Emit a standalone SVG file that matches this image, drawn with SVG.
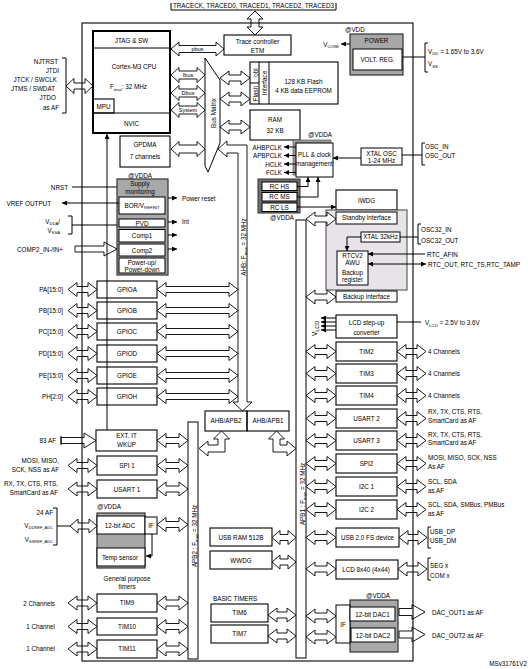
<svg xmlns="http://www.w3.org/2000/svg" width="528" height="669" viewBox="0 0 528 669">
<style>
text{font-family:"Liberation Sans",Arial,sans-serif;font-size:6.3px;fill:#000}
.m{text-anchor:middle}
.e{text-anchor:end}
.bx{fill:none;stroke:#000;stroke-width:1.1}
.wb{fill:#fff;stroke:#000;stroke-width:1}
.ha{fill:#fff;stroke:#000;stroke-width:0.9}
.ln{fill:none;stroke:#000;stroke-width:1}
.gr{fill:#a8a8a8;stroke:#333;stroke-width:1.2}
.dg{fill:#6e6e6e;stroke:#333;stroke-width:1}
.rtc{fill:#e8e3e8;stroke:#444;stroke-width:1}
.sm{font-size:5.5px}
</style>
<defs>
<marker id="ah" viewBox="0 0 6 6" refX="6" refY="3" markerWidth="5" markerHeight="5" markerUnits="userSpaceOnUse" orient="auto-start-reverse"><path d="M0,0 L6,3 L0,6 z" fill="#000"/></marker>
<polygon id="a29" points="0,0 9,-7 9,-3 20,-3 20,-7 29,0 20,7 20,3 9,3 9,7"/>
<polygon id="a31" points="0,0 9,-7 9,-3 22,-3 22,-7 31,0 22,7 22,3 9,3 9,7"/>
<polygon id="a30" points="0,0 9,-7 9,-3 21,-3 21,-7 30,0 21,7 21,3 9,3 9,7"/>
<polygon id="a28" points="0,0 9,-7 9,-3 19,-3 19,-7 28,0 19,7 19,3 9,3 9,7"/>
<polygon id="a24" points="0,0 8,-7 8,-3 16,-3 16,-7 24,0 16,7 16,3 8,3 8,7"/>
<polygon id="a81" points="0,0 9,-7 9,-3 72,-3 72,-7 81,0 72,7 72,3 9,3 9,7"/>
<polygon id="b34" points="0,0 8,-7.5 8,-4 26,-4 26,-7.5 34,0 26,7.5 26,4 8,4 8,7.5"/>
</defs>
<rect width="528" height="669" fill="#fff"/>

<!-- top trace label -->
<g id="trace-pins">
<text class="m" x="253.5" y="8">TRACECK, TRACED0, TRACED1, TRACED2, TRACED3</text>
<path class="ln" d="M171,3 V10 H336 V3"/>
</g>

<!-- nodes -->
<g id="cpu">
<rect x="93" y="31" width="77" height="102" fill="none" stroke="#000" stroke-width="2"/>
<path class="ln" d="M93,48 H170 M93,113 H170"/>
<rect x="93" y="99" width="21" height="14" class="bx"/>
<text class="m" x="131.5" y="42.5">JTAG &amp; SW</text>
<text class="m" x="134" y="69" font-size="8">Cortex-M3 CPU</text>
<text x="110" y="89">F<tspan font-size="4.2" dy="1.5">max</tspan><tspan dy="-1.5">: 32 MHz</tspan></text>
<text class="m" x="103.5" y="109" font-size="6">MPU</text>
<text class="m" x="131.5" y="126">NVIC</text>
</g>
<g id="jtag-pins">
<text class="e" x="58" y="64" font-size="6.4">NJTRST</text>
<text class="e" x="59" y="73" font-size="6.4">JTDI</text>
<text class="e" x="57" y="82" font-size="6.4">JTCK / SWCLK</text>
<text class="e" x="55" y="91" font-size="6.4">JTMS / SWDAT</text>
<text class="e" x="56" y="100" font-size="6.4">JTDO</text>
<text class="e" x="59" y="110" font-size="6.4">as AF</text>
<path class="ln" d="M62,58 H66 V113 H62"/>
</g>
<g id="gpdma">
<rect x="120" y="136" width="50" height="31" class="bx"/>
<text class="m" x="145" y="146.5" font-size="7">GPDMA</text>
<text class="m" x="145" y="159">7 channels</text>
</g>
<g id="trace-etm">
<rect x="224" y="35" width="67" height="20" class="bx"/>
<text class="m" x="257.5" y="43.5" font-size="7.5">Trace controller</text>
<text class="m" x="257.5" y="53" font-size="7.5">ETM</text>
</g>
<g id="bus-matrix">
<path class="ln" d="M205,58 L220,80 L220,143 L208,172 L205,166 Z"/>
<text class="m" transform="translate(216,113) rotate(-90)" font-size="7">Bus Matrix</text>
</g>
<g id="flash">
<rect x="250" y="62" width="88" height="42" class="bx"/>
<path class="ln" d="M259,62 V104 M269,62 V104 M250,83 H259"/>
<text class="m" transform="translate(257.5,72.5) rotate(-90)" font-size="6">obl</text>
<text class="m" transform="translate(257.5,93.5) rotate(-90)" font-size="6">Flash</text>
<text class="m" transform="translate(267,83) rotate(-90)" font-size="6">Interface</text>
<text class="m" x="303.5" y="83.5" font-size="6">128 KB Flash</text>
<text class="m" x="303.5" y="92.5" font-size="5.8">4 KB data EEPROM</text>
</g>
<g id="ram">
<rect x="250" y="110" width="50" height="30" class="bx"/>
<text class="m" x="275" y="122" font-size="8">RAM</text>
<text class="m" x="275" y="133" font-size="8">32 KB</text>
</g>
<g id="power">
<text x="345" y="31.5" font-size="6">@VDD</text>
<rect x="350" y="34" width="53" height="41" class="gr"/>
<rect x="353" y="49" width="49" height="21" class="wb"/>
<text class="m" x="376.5" y="43" font-size="6.5">POWER</text>
<text class="m" x="377.5" y="62" font-size="6.5">VOLT. REG.</text>
<text class="e" x="339" y="46.5" font-size="6.5">V<tspan font-size="4" dy="1.2">CORE</tspan></text>
<path class="ln" d="M403,57 H425"/>
<path class="ln" d="M428,43 H425 V72 H428"/>
<text x="428" y="53.5" font-size="6.5">V<tspan font-size="4.3" dy="1.5">DD</tspan><tspan dy="-1.5"> = 1.65V to 3.6V</tspan></text>
<text x="428" y="66" font-size="6.5">V<tspan font-size="4.3" dy="1.5">SS</tspan></text>
</g>
<g id="pll">
<text class="m" x="320" y="137" font-size="6">@VDDA</text>
<rect x="293" y="140" width="38" height="35" fill="#999" stroke="#666" stroke-width="0.8"/>
<rect x="296" y="143" width="37" height="34" class="wb"/>
<text class="m" x="314.5" y="156.5" font-size="6">PLL &amp; clock</text>
<text class="m" x="314.5" y="165.5" font-size="6">management</text>
<text class="e" x="282" y="149.5">AHBPCLK</text>
<text class="e" x="282" y="158">APBPCLK</text>
<text class="e" x="282" y="166.5">HCLK</text>
<text class="e" x="282" y="175">FCLK</text>
</g>
<g id="xtal-osc">
<rect x="361" y="148" width="41" height="17" class="wb"/>
<text class="m" x="381.5" y="155.5" font-size="6">XTAL OSC</text>
<text class="m" x="381.5" y="163" font-size="5.6">1-24 MHz</text>
<path class="ln" d="M402,155 H422"/>
<path class="ln" d="M425,143 H422 V165 H425"/>
<text x="425" y="148.5">OSC_IN</text>
<text x="425" y="158">OSC_OUT</text>
</g>
<g id="rc-osc">
<rect x="258" y="179" width="42" height="34" class="dg"/>
<rect x="262" y="182" width="35" height="8.5" class="wb" stroke-width="0.8"/>
<rect x="262" y="192.5" width="35" height="8.5" class="wb" stroke-width="0.8"/>
<rect x="262" y="203" width="35" height="8.5" class="wb" stroke-width="0.8"/>
<text class="m" x="279.5" y="188.8" font-size="6">RC HS</text>
<text class="m" x="279.5" y="199.3" font-size="6">RC MS</text>
<text class="m" x="279.5" y="209.8" font-size="6">RC LS</text>
<text class="m" x="282" y="220" font-size="6">@VDDA</text>
</g>
<g id="supply">
<text class="m" x="140" y="177.5" font-size="6">@VDDA</text>
<rect x="117" y="179" width="51" height="96" class="gr"/>
<text class="m" x="140" y="185.5">Supply</text>
<text class="m" x="140" y="193.5">monitoring</text>
<rect x="119" y="197" width="46" height="17" class="wb"/>
<text class="m" x="142" y="208">BOR/V<tspan font-size="4.3" dy="1.2">REFINT</tspan></text>
<rect x="119" y="219" width="46" height="8" class="wb"/>
<text class="m" x="142" y="225.5" font-size="6">PVD</text>
<rect x="119" y="229.5" width="46" height="12.5" class="wb"/>
<text class="m" x="142" y="238">Comp1</text>
<rect x="119" y="244" width="46" height="12" class="wb"/>
<text class="m" x="142" y="252.5">Comp2</text>
<rect x="119" y="258" width="46" height="15" class="wb"/>
<text class="m" x="142" y="264.8" font-size="7">Power-up/</text>
<text class="m" x="142" y="271.8" font-size="7">Power-down</text>
<text x="182" y="200.5">Power reset</text>
<text x="182" y="224">Int</text>
</g>
<g id="supply-pins">
<text class="e" x="68" y="189.5">NRST</text>
<text class="e" x="51" y="205.5">VREF OUTPUT</text>
<text class="e" x="60" y="224">V<tspan font-size="4.2" dy="1.2">DDA</tspan><tspan dy="-1.2">/</tspan></text>
<text class="e" x="60" y="232.5">V<tspan font-size="4.2" dy="1.2">SSA</tspan></text>
<path class="ln" d="M68,216 H72 V234 H68"/>
<text class="e" x="63" y="251.5">COMP2_IN-/IN+</text>
</g>
<g id="iwdg">
<rect x="336" y="190" width="61" height="20" class="bx"/>
<text class="m" x="366.5" y="202.5" font-size="6.5">IWDG</text>
</g>
<g id="rtc-domain">
<rect x="326" y="210" width="81" height="80" class="rtc"/>
<rect x="336" y="212" width="61" height="12" class="wb"/>
<text class="m" x="366.5" y="220" font-size="5.5">Standby interface</text>
<rect x="361" y="232" width="39" height="10" class="wb"/>
<text class="m" x="380.5" y="239.3" font-size="6">XTAL 32kHz</text>
<rect x="337" y="251" width="31" height="34" class="wb"/>
<text class="m" x="352.5" y="258" font-size="5.8">RTCV2</text>
<text class="m" x="352.5" y="265" font-size="5.8">AWU</text>
<text class="m" x="352.5" y="274.5" font-size="5.8">Backup</text>
<text class="m" x="352.5" y="281.5" font-size="5.8">register</text>
<rect x="336" y="291" width="61" height="11" class="wb"/>
<text class="m" x="366.5" y="298.8" font-size="5.5">Backup interface</text>
<path class="ln" d="M400,237 H418"/>
<path class="ln" d="M421,224 H418 V244 H421"/>
<text x="421" y="232">OSC32_IN</text>
<text x="421" y="242.5">OSC32_OUT</text>
<text x="427" y="256.5">RTC_AFIN</text>
<text x="428" y="266.5" font-size="6">RTC_OUT, RTC_TS,RTC_TAMP</text>
</g>
<g id="lcd-stepup">
<rect x="336" y="315" width="61" height="23" class="bx"/>
<text class="m" x="366.5" y="325" font-size="7">LCD step-up</text>
<text class="m" x="366.5" y="334.5" font-size="5.8">converter</text>
<text transform="translate(317,336) rotate(-90)" font-size="8.5">V<tspan font-size="5.5" dy="1.5">LCD</tspan></text>
<path class="ln" d="M397,322 H421"/>
<text x="425" y="325" font-size="6.5">V<tspan font-size="4.3" dy="1.5">LCD</tspan><tspan dy="-1.5"> = 2.5V to 3.6V</tspan></text>
</g>

<!-- GPIOs -->
<g id="gpioa"><rect x="97" y="281" width="60" height="17" class="bx"/><text class="m" x="127" y="291.7">GPIOA</text><text class="e" x="63" y="292">PA[15:0]</text></g>
<g id="gpiob"><rect x="97" y="302" width="60" height="17" class="bx"/><text class="m" x="127" y="312.7">GPIOB</text><text class="e" x="63" y="313">PB[15:0]</text></g>
<g id="gpioc"><rect x="97" y="323" width="60" height="17" class="bx"/><text class="m" x="127" y="333.7">GPIOC</text><text class="e" x="63" y="334">PC[15:0]</text></g>
<g id="gpiod"><rect x="97" y="345" width="60" height="17" class="bx"/><text class="m" x="127" y="355.7">GPIOD</text><text class="e" x="63" y="356">PD[15:0]</text></g>
<g id="gpioe"><rect x="97" y="367" width="60" height="17" class="bx"/><text class="m" x="127" y="377.7">GPIOE</text><text class="e" x="63" y="378">PE[15:0]</text></g>
<g id="gpioh"><rect x="97" y="388" width="60" height="17" class="bx"/><text class="m" x="127" y="398.7">GPIOH</text><text class="e" x="63" y="399">PH[2:0]</text></g>

<!-- AHB bar + bridges -->
<g id="ahb">
<polygon class="ha" points="218,149 227,141 227,145 247,145 247,402 252,402 242.5,411 233,402 238,402 238,153 227,153 227,157"/>
<text class="m" transform="translate(246,247) rotate(-90)" font-size="6.8">AHB: F<tspan font-size="4.3" dy="1.2">max</tspan><tspan dy="-1.2"> = 32 MHz</tspan></text>
</g>
<g id="ahb-apb2"><rect x="205" y="411" width="42" height="20" class="bx"/><text class="m" x="226" y="423" font-size="5.5">AHB/APB2</text></g>
<g id="ahb-apb1"><rect x="247" y="411" width="42" height="20" class="bx"/><text class="m" x="268" y="423" font-size="5.5">AHB/APB1</text></g>
<g id="apb2">
<rect x="188" y="422" width="10" height="237" class="wb"/>
<text class="m" transform="translate(196.5,536) rotate(-90)" font-size="7">APB2 : F<tspan font-size="4.3" dy="1.2">max</tspan><tspan dy="-1.2"> = 32 MHz</tspan></text>
</g>
<g id="apb1">
<rect x="296" y="220" width="10" height="438" class="wb"/>
<text class="m" transform="translate(304.5,494) rotate(-90)" font-size="7">APB1 : F<tspan font-size="4.3" dy="1.2">max</tspan><tspan dy="-1.2"> = 32 MHz</tspan></text>
</g>

<!-- left APB2 peripherals -->
<g id="extit"><rect x="96" y="430" width="61" height="21" class="bx"/><text class="m" x="126.5" y="437.5" font-size="6">EXT. IT</text><text class="m" x="126.5" y="446.5" font-size="6">WKUP</text><text class="e" x="56" y="443">83 AF</text></g>
<g id="spi1"><rect x="97" y="456" width="60" height="19" class="bx"/><text class="m" x="127" y="468">SPI 1</text><text class="e" x="59" y="462.5">MOSI, MISO,</text><text class="e" x="59" y="471.5">SCK, NSS as AF</text></g>
<g id="usart1"><rect x="97" y="480" width="60" height="18" class="bx"/><text class="m" x="127" y="491.5">USART 1</text><text class="e" x="58" y="486">RX, TX, CTS, RTS,</text><text class="e" x="58" y="495">SmartCard as AF</text></g>
<g id="adc">
<text x="97" y="508.5" font-size="6">@VDDA</text>
<rect x="97" y="513" width="48" height="55" class="gr" fill="#b5b5b5"/>
<rect x="97" y="516" width="48" height="18" class="wb"/>
<rect x="145" y="517" width="12" height="17" class="wb"/>
<rect x="97" y="548" width="48" height="18" class="wb"/>
<text class="m" x="120" y="527.5">12-bit ADC</text>
<text class="m" x="151" y="528" font-size="6.5">IF</text>
<text class="m" x="120" y="559.5">Temp sensor</text>
<text class="e" x="53" y="514.5">24 AF</text>
<text class="e" x="53" y="528">V<tspan font-size="4" dy="1.2">DDREF_ADC</tspan></text>
<text class="e" x="53" y="541.5">V<tspan font-size="4" dy="1.2">SSREF_ADC</tspan></text>
<path class="ln" d="M53,508 H57 V545 H53"/>
</g>
<text class="m" x="127" y="580.5">General purpose</text>
<text class="m" x="127" y="588.5">timers</text>
<g id="tim9"><rect x="97" y="594" width="60" height="18" class="bx"/><text class="m" x="127" y="605.3">TIM9</text><text class="e" x="55" y="605.5">2 Channels</text></g>
<g id="tim10"><rect x="97" y="618" width="60" height="17" class="bx"/><text class="m" x="127" y="628.8">TIM10</text><text class="e" x="55" y="628.5">1 Channel</text></g>
<g id="tim11"><rect x="97" y="640" width="60" height="18" class="bx"/><text class="m" x="127" y="651.3">TIM11</text><text class="e" x="55" y="651">1 Channel</text></g>

<!-- middle APB1 blocks -->
<g id="usbram"><rect x="210" y="528" width="62" height="18" class="bx"/><text class="m" x="241" y="539.5" font-size="6">USB RAM 512B</text></g>
<g id="wwdg"><rect x="210" y="551" width="62" height="18" class="bx"/><text class="m" x="241" y="562.5">WWDG</text></g>
<text x="213" y="601" font-size="6">BASIC TIMERS</text>
<g id="tim6"><rect x="211" y="604" width="57" height="18" class="bx"/><text class="m" x="239.5" y="615.3">TIM6</text></g>
<g id="tim7"><rect x="211" y="625" width="57" height="18" class="bx"/><text class="m" x="239.5" y="636.3">TIM7</text></g>

<!-- right APB1 peripherals -->
<g id="tim2"><rect x="336" y="342" width="61" height="19" class="bx"/><text class="m" x="366.5" y="353.7">TIM2</text><text x="428" y="353.5">4 Channels</text></g>
<g id="tim3"><rect x="336" y="364" width="61" height="19" class="bx"/><text class="m" x="366.5" y="375.7">TIM3</text><text x="428" y="375.5">4 Channels</text></g>
<g id="tim4"><rect x="336" y="386" width="61" height="19" class="bx"/><text class="m" x="366.5" y="397.7">TIM4</text><text x="428" y="397.5">4 Channels</text></g>
<g id="usart2"><rect x="336" y="409" width="61" height="19" class="bx"/><text class="m" x="366.5" y="420.7">USART 2</text><text x="428" y="414">RX, TX, CTS, RTS,</text><text x="428" y="422.5">SmartCard as AF</text></g>
<g id="usart3"><rect x="336" y="431" width="61" height="19" class="bx"/><text class="m" x="366.5" y="442.7">USART 3</text><text x="428" y="436.5">RX, TX, CTS, RTS,</text><text x="428" y="444.5">SmartCard as AF</text></g>
<g id="spi2"><rect x="336" y="454" width="61" height="19" class="bx"/><text class="m" x="366.5" y="465.7">SPI2</text><text x="428" y="460">MOSI, MISO, SCK, NSS</text><text x="428" y="468.5">As AF</text></g>
<g id="i2c1"><rect x="336" y="477" width="61" height="19" class="bx"/><text class="m" x="366.5" y="488.7">I2C 1</text><text x="428" y="484">SCL, SDA</text><text x="428" y="492.5">as AF</text></g>
<g id="i2c2"><rect x="336" y="500" width="61" height="19" class="bx"/><text class="m" x="366.5" y="511.7">I2C 2</text><text x="428" y="507">SCL, SDA, SMBus, PMBus</text><text x="428" y="515.5">as AF</text></g>
<g id="usbdev"><rect x="336" y="528" width="63" height="19" class="bx"/><text class="m" x="367.5" y="540" font-size="6.8">USB 2.0 FS device</text><path class="ln" d="M431,527 H428 V548 H431"/><text x="430" y="533.5">USB_DP</text><text x="430" y="543">USB_DM</text></g>
<g id="lcd"><rect x="336" y="560" width="62" height="19" class="bx"/><text class="m" x="366" y="571.5" font-size="6">LCD 8x40 (4x44)</text><path class="ln" d="M431,558 H428 V580 H431"/><text x="430" y="567.5">SEG x</text><text x="430" y="577.5">COM x</text></g>
<g id="dac">
<text class="m" x="378" y="597.5" font-size="6">@VDDA</text>
<rect x="350" y="600" width="48" height="52" class="gr" fill="#aaa"/>
<rect x="336" y="605" width="14" height="38" class="wb"/>
<text class="m" x="343" y="626.5" font-size="6.5">IF</text>
<rect x="350" y="607" width="45" height="14" class="wb"/>
<rect x="351" y="628" width="44" height="14" class="wb"/>
<text class="m" x="372.5" y="616.5">12-bit  DAC1</text>
<text class="m" x="373" y="637.5">12-bit  DAC2</text>
<text x="432" y="615">DAC_OUT1 as AF</text>
<text x="432" y="637.5">DAC_OUT2 as AF</text>
</g>

<!-- connectors -->
<g id="connectors">
<polygon class="ha" points="255,11 263,19 259,19 259,27 263,27 255,35 247,27 251,27 251,19 247,19"/>
<polygon class="ha" points="66,86 74,78.5 74,83 85,83 85,78.5 93,86 85,93.5 85,89 74,89 74,93.5"/>
<polygon class="ha" points="171,49 179,42 179,45.5 216,45.5 216,42 224,49 216,56 216,52.5 179,52.5 179,56"/>
<text class="m sm" x="197.5" y="51">pbus</text>
<use href="#b34" class="ha" x="171" y="75"/><text class="m sm" x="188" y="77">Ibus</text>
<use href="#b34" class="ha" x="171" y="93"/><text class="m sm" x="188" y="95">Dbus</text>
<use href="#b34" class="ha" x="171" y="110"/><text class="m sm" x="188" y="112">System</text>
<use href="#b34" class="ha" x="171" y="149"/>
<use href="#a30" class="ha" x="220" y="78"/>
<use href="#a30" class="ha" x="220" y="99"/>
<use href="#a30" class="ha" x="220" y="127"/>
<!-- clock lines -->
<path class="ln" d="M296,147 H284" marker-end="url(#ah)"/>
<path class="ln" d="M296,155.5 H284" marker-end="url(#ah)"/>
<path class="ln" d="M296,164 H284" marker-end="url(#ah)"/>
<path class="ln" d="M296,172.5 H284" marker-end="url(#ah)"/>
<path class="ln" d="M361,158 H333" marker-end="url(#ah)"/>
<path class="ln" d="M297,186.5 H308 V177" marker-end="url(#ah)"/>
<path class="ln" d="M297,197 H318 V177" marker-end="url(#ah)"/>
<path class="ln" d="M297,207 H336" marker-end="url(#ah)"/>
<path class="ln" d="M350,44 H341" marker-end="url(#ah)"/>
<!-- supply lines -->
<path class="ln" d="M72,187 H117"/>
<path class="ln" d="M119,203 H62" marker-end="url(#ah)"/>
<path class="ln" d="M72,225 H117"/>
<polygon class="ha" points="75,246 104,246 104,242 117,249 104,256 104,252 75,252"/>
<path class="ln" d="M168,198 H177" marker-end="url(#ah)"/>
<path class="ln" d="M168,222 H177" marker-end="url(#ah)"/>
<path class="ln" d="M168,235 H177" marker-end="url(#ah)"/>
<path class="ln" d="M168,249 H177" marker-end="url(#ah)"/>
<!-- RTC -->
<path class="ln" d="M361,237 H347 V251" marker-end="url(#ah)"/>
<path class="ln" d="M425,254 H368" marker-end="url(#ah)"/>
<path class="ln" d="M368,264 H426" marker-start="url(#ah)" marker-end="url(#ah)"/>
<use href="#a30" class="ha" x="306" y="219"/>
<use href="#a30" class="ha" x="306" y="297"/>
<path class="ln" d="M336,318 H321" marker-end="url(#ah)"/>
<path class="ln" d="M336,322 H321" marker-end="url(#ah)"/>
<path class="ln" d="M336,326 H321" marker-end="url(#ah)"/>
<path class="ln" d="M336,330 H321" marker-end="url(#ah)"/>
<!-- GPIO -->
<use href="#a29" class="ha" x="68" y="289.5"/><use href="#a81" class="ha" x="157" y="289.5"/>
<use href="#a29" class="ha" x="68" y="310.5"/><use href="#a81" class="ha" x="157" y="310.5"/>
<use href="#a29" class="ha" x="68" y="331.5"/><use href="#a81" class="ha" x="157" y="331.5"/>
<use href="#a29" class="ha" x="68" y="353.5"/><use href="#a81" class="ha" x="157" y="353.5"/>
<use href="#a29" class="ha" x="68" y="375.5"/><use href="#a81" class="ha" x="157" y="375.5"/>
<use href="#a29" class="ha" x="68" y="396.5"/><use href="#a81" class="ha" x="157" y="396.5"/>
<!-- bridges to APB -->
<polygon class="ha" points="221.5,431 229.5,439 225,439 225,452 208,452 208,456 199,448.5 208,441 208,445 218,445 218,439 213.5,439"/>
<polygon class="ha" points="276.5,431 284.5,439 280,439 280,445 287,445 287,441 296,448.5 287,456 287,452 273,452 273,439 268.5,439"/>
<!-- APB2 side -->
<polygon class="ha" points="61,437.5 84,437.5 84,433 96,440.5 84,448 84,443.5 61,443.5"/>
<path class="ln" d="M61,436 V445"/>
<use href="#a31" class="ha" x="157" y="440.5"/>
<use href="#a29" class="ha" x="68" y="465.5"/><use href="#a31" class="ha" x="157" y="465.5"/>
<use href="#a29" class="ha" x="68" y="489"/><use href="#a31" class="ha" x="157" y="489"/>
<path class="ln" d="M57,526 H70"/>
<polygon class="ha" points="70,526 78,519 78,523 89,523 89,519 97,526 89,533 89,529 78,529 78,533"/>
<use href="#a31" class="ha" x="157" y="524.5"/>
<path class="ln" d="M152,534 V556 H146" marker-end="url(#ah)"/>
<use href="#a29" class="ha" x="68" y="603"/><use href="#a31" class="ha" x="157" y="603"/>
<use href="#a29" class="ha" x="68" y="626.5"/><use href="#a31" class="ha" x="157" y="626.5"/>
<use href="#a29" class="ha" x="68" y="649"/><use href="#a31" class="ha" x="157" y="649"/>
<!-- APB1 side -->
<use href="#a30" class="ha" x="306" y="351.5"/><use href="#a29" class="ha" x="397" y="351.5"/>
<use href="#a30" class="ha" x="306" y="373.5"/><use href="#a29" class="ha" x="397" y="373.5"/>
<use href="#a30" class="ha" x="306" y="395.5"/><use href="#a29" class="ha" x="397" y="395.5"/>
<use href="#a30" class="ha" x="306" y="418.5"/><use href="#a29" class="ha" x="397" y="418.5"/>
<use href="#a30" class="ha" x="306" y="440.5"/><use href="#a29" class="ha" x="397" y="440.5"/>
<use href="#a30" class="ha" x="306" y="463.5"/><use href="#a29" class="ha" x="397" y="463.5"/>
<use href="#a30" class="ha" x="306" y="486.5"/><use href="#a29" class="ha" x="397" y="486.5"/>
<use href="#a30" class="ha" x="306" y="509.5"/><use href="#a29" class="ha" x="397" y="509.5"/>
<use href="#a30" class="ha" x="306" y="537.5"/><use href="#a28" class="ha" x="399" y="537.5"/>
<use href="#a30" class="ha" x="306" y="569"/><use href="#a29" class="ha" x="398" y="569"/>
<use href="#a24" class="ha" x="272" y="537.5"/>
<use href="#a24" class="ha" x="272" y="562"/>
<use href="#a28" class="ha" x="268" y="615"/>
<use href="#a28" class="ha" x="268" y="636"/>
<use href="#a30" class="ha" x="306" y="616"/>
<use href="#a30" class="ha" x="306" y="637"/>
<polygon class="ha" points="399,608.5 412,608.5 412,604.5 425,612 412,619.5 412,615.5 399,615.5"/>
<polygon class="ha" points="399,631 412,631 412,627 425,634.5 412,642 412,638 399,638"/>
<!-- NVIC interrupt line -->
<path class="ln" d="M107,430 V134" marker-end="url(#ah)"/>
</g>

<!-- outer frame -->
<g id="frame">
<rect x="82" y="23" width="331" height="638" class="bx"/>
</g>
<text class="e" x="527" y="665.5" font-size="7.6">MSv31761V2</text>
</svg>
